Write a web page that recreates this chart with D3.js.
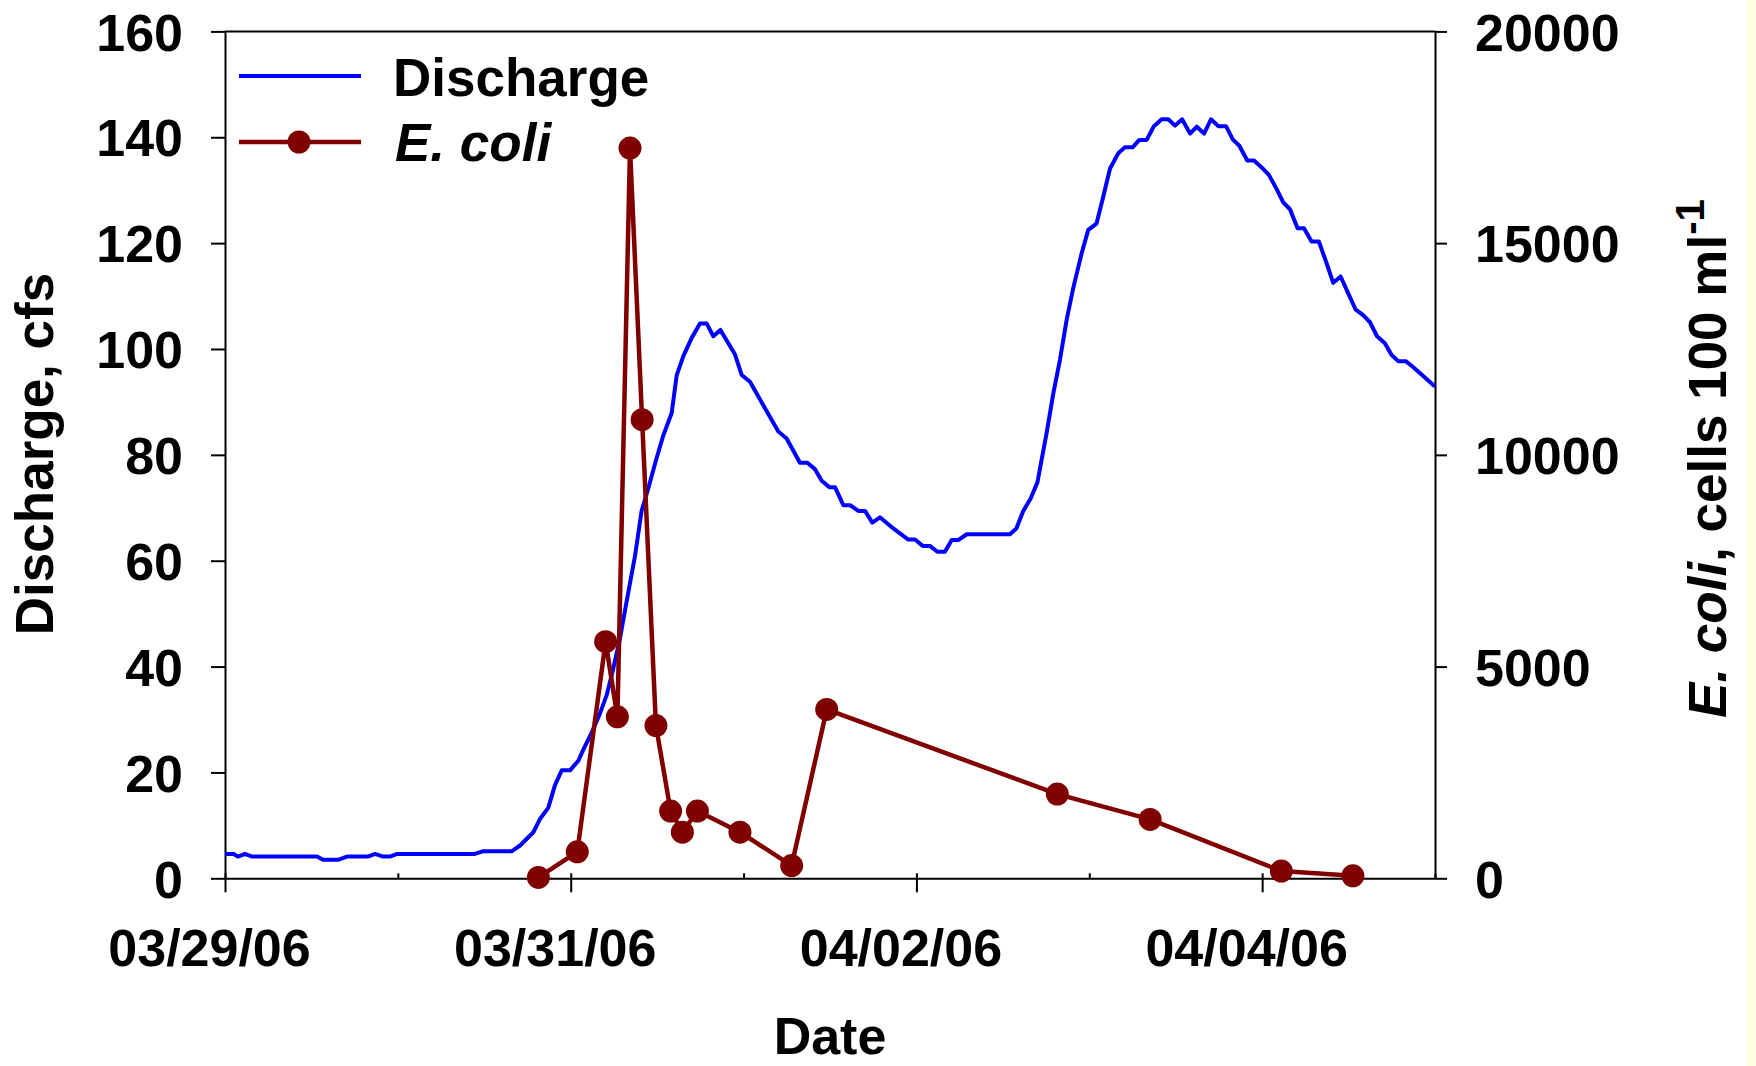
<!DOCTYPE html>
<html>
<head>
<meta charset="utf-8">
<title>Discharge and E. coli</title>
<script src="https://d3js.org/d3.v7.min.js"></script>
<style>
  body { margin: 0; background: #fff; }
  svg text { font-family: "Liberation Sans", Arial, sans-serif; font-weight: bold; fill: #000; }
  .axis path, .axis line { stroke: #000; stroke-width: 2px; }
  .axis text { font-size: 52px; }
</style>
</head>
<body>
<svg id="chart" width="1756" height="1066"></svg>
<script>
// days since 03/29/06 00:00
const dischargeDay = [0.000,0.050,0.075,0.116,0.157,0.533,0.567,0.654,0.705,0.827,0.868,0.914,0.954,0.996,1.445,1.490,1.658,
  1.707,1.784,1.822,1.870,1.909,1.948,1.996,2.044,2.073,2.121,2.169,2.208,2.246,2.285,2.324,2.372,2.410,2.449,2.497,2.536,
  2.584,2.613,2.651,2.700,2.748,2.787,2.825,2.866,2.950,2.989,3.037,3.124,3.201,3.249,3.326,3.369,3.413,3.452,3.496,3.529,
  3.577,3.616,3.664,3.703,3.745,3.789,3.866,3.953,3.992,4.036,4.078,4.121,4.165,4.204,4.242,4.291,4.541,4.578,4.618,4.660,
  4.700,4.753,4.792,4.830,4.869,4.907,4.956,4.994,5.042,5.081,5.120,5.168,5.206,5.251,5.289,5.332,5.374,5.419,5.457,5.496,
  5.537,5.583,5.622,5.664,5.704,5.746,5.791,5.830,5.868,5.914,5.953,5.997,6.039,6.084,6.122,6.161,6.205,6.242,6.286,6.328,
  6.373,6.411,6.454,6.498,6.540,6.584,6.623,6.665,6.710,6.748,6.787,6.831,6.873,7.000];
const dischargeCfs = [4.6,4.6,4.1,4.6,4.1,4.1,3.5,3.5,4.1,4.1,4.6,4.1,4.1,4.6,4.6,5.1,5.1,
  6.2,8.7,11.2,13.3,17.6,20.4,20.4,22.2,24.3,27.5,31.1,34.6,39.6,45.3,52.4,60.9,69.4,73.7,79.4,83.7,
  87.9,95.0,98.6,102.1,104.8,104.8,102.4,103.6,99.0,95.1,93.8,88.8,84.4,83.1,78.5,78.5,77.3,75.1,73.9,73.9,
  70.5,70.5,69.4,69.4,67.2,68.2,66.1,64.0,64.0,62.8,62.8,61.7,61.7,63.9,63.9,65.0,65.0,66.1,69.4,71.7,
  74.8,84.1,91.6,97.9,105.5,111.5,118.1,122.5,123.7,128.8,134.1,137.0,138.1,138.1,139.5,139.5,142.1,143.4,143.4,142.2,
  143.4,140.7,142.0,140.7,143.4,142.1,142.1,139.6,138.4,135.6,135.6,134.3,132.9,130.2,127.7,126.4,122.8,122.8,120.3,120.3,
  116.2,112.5,113.7,110.5,107.5,106.4,105.1,102.4,101.1,98.9,97.7,97.7,96.6,92.9];

const ecoliDay = [1.813,2.038,2.202,2.270,2.343,2.413,2.493,2.578,2.646,2.733,2.979,3.278,3.481,4.815,5.352,6.111,6.525];
const ecoliCount = [20,626,5589,3813,17244,10831,3606,1589,1089,1589,1089,300,3988,1988,1390,170,60];

const cfsTicks = [0,20,40,60,80,100,120,140,160];
const ecoliTicks = [0,5000,10000,15000,20000];
const dateTickDays = [0,2,4,6];   // labelled: 03/29/06, 03/31/06, 04/02/06, 04/04/06

const svg = d3.select("#chart");
const plotL = 225, plotR = 1435, plotT = 31.4, plotB = 878.3;
const start = Date.UTC(2006, 2, 29);
const toDate = d => new Date(start + d * 864e5);

const x = d3.scaleUtc().domain([toDate(0), toDate(7)]).range([plotL, plotR]);
const y = d3.scaleLinear().domain([0, 160]).range([plotB, plotT]);
const y2 = d3.scaleLinear().domain([0, 20000]).range([plotB, plotT]);

// pale strip on the right edge
svg.append("rect").attr("x", 1747).attr("y", 0).attr("width", 9).attr("height", 1066).attr("fill", "#fffee0");

// top frame line
svg.append("line").attr("x1", plotL).attr("x2", plotR).attr("y1", plotT).attr("y2", plotT)
  .attr("stroke", "#000").attr("stroke-width", 2);

// minor day ticks (inward)
svg.append("g").attr("class", "axis").attr("transform", `translate(0,${plotB})`)
  .call(d3.axisBottom(x).ticks(d3.utcDay.every(1)).tickSize(-5).tickFormat(""))
  .call(g => g.select(".domain").remove());

svg.append("g").attr("class", "axis").attr("transform", `translate(0,${plotB})`)
  .call(d3.axisBottom(x).tickValues(dateTickDays.map(toDate)).tickSize(14).tickPadding(37)
    .tickFormat(d3.utcFormat("%m/%d/%y")).tickSizeOuter(0))
  .call(g => g.selectAll("text").attr("dx", -16));

svg.append("g").attr("class", "axis").attr("transform", `translate(${plotL},0)`)
  .call(d3.axisLeft(y).tickValues(cfsTicks).tickSize(14).tickPadding(28).tickSizeOuter(0))
  .call(g => g.selectAll("text").attr("dy", "0.36em"));

svg.append("g").attr("class", "axis").attr("transform", `translate(${plotR},0)`)
  .call(d3.axisRight(y2).tickValues(ecoliTicks).tickSize(12).tickPadding(28).tickSizeOuter(0)
    .tickFormat(d3.format("d")))
  .call(g => g.selectAll("text").attr("dy", "0.36em"));

// series
const discharge = dischargeDay.map((d, i) => ({ t: toDate(d), v: dischargeCfs[i] }));
const ecoli = ecoliDay.map((d, i) => ({ t: toDate(d), v: ecoliCount[i] }));

svg.append("path").datum(discharge)
  .attr("fill", "none").attr("stroke", "#0000ff").attr("stroke-width", 4).attr("stroke-linejoin", "round")
  .attr("d", d3.line().x(d => x(d.t)).y(d => y(d.v)));

svg.append("path").datum(ecoli)
  .attr("fill", "none").attr("stroke", "#800000").attr("stroke-width", 4.5).attr("stroke-linejoin", "round")
  .attr("d", d3.line().x(d => x(d.t)).y(d => y2(d.v)));

svg.append("g").selectAll("circle").data(ecoli).join("circle")
  .attr("cx", d => x(d.t)).attr("cy", d => y2(d.v)).attr("r", 11.5).attr("fill", "#800000");

// legend
svg.append("line").attr("x1", 239).attr("x2", 361).attr("y1", 76).attr("y2", 76)
  .attr("stroke", "#0000ff").attr("stroke-width", 4);
svg.append("text").attr("x", 393).attr("y", 96).attr("font-size", 53).text("Discharge");
svg.append("line").attr("x1", 239).attr("x2", 361).attr("y1", 142).attr("y2", 142)
  .attr("stroke", "#800000").attr("stroke-width", 4.5);
svg.append("circle").attr("cx", 299).attr("cy", 142).attr("r", 11.5).attr("fill", "#800000");
svg.append("text").attr("x", 395).attr("y", 161).attr("font-size", 53).attr("font-style", "italic").text("E. coli");

// axis titles
svg.append("text").attr("x", 830).attr("y", 1054).attr("font-size", 52).attr("text-anchor", "middle").text("Date");

svg.append("text").attr("transform", "translate(53,454) rotate(-90)")
  .attr("font-size", 53).attr("text-anchor", "middle").text("Discharge, cfs");

const rt = svg.append("text").attr("transform", "translate(1726,718) rotate(-90)").attr("font-size", 53);
rt.append("tspan").attr("font-style", "italic").text("E. coli");
rt.append("tspan").text(", cells 100 ml");
rt.append("tspan").attr("font-size", 40).attr("dy", -22).text("-1");
</script>
</body>
</html>
